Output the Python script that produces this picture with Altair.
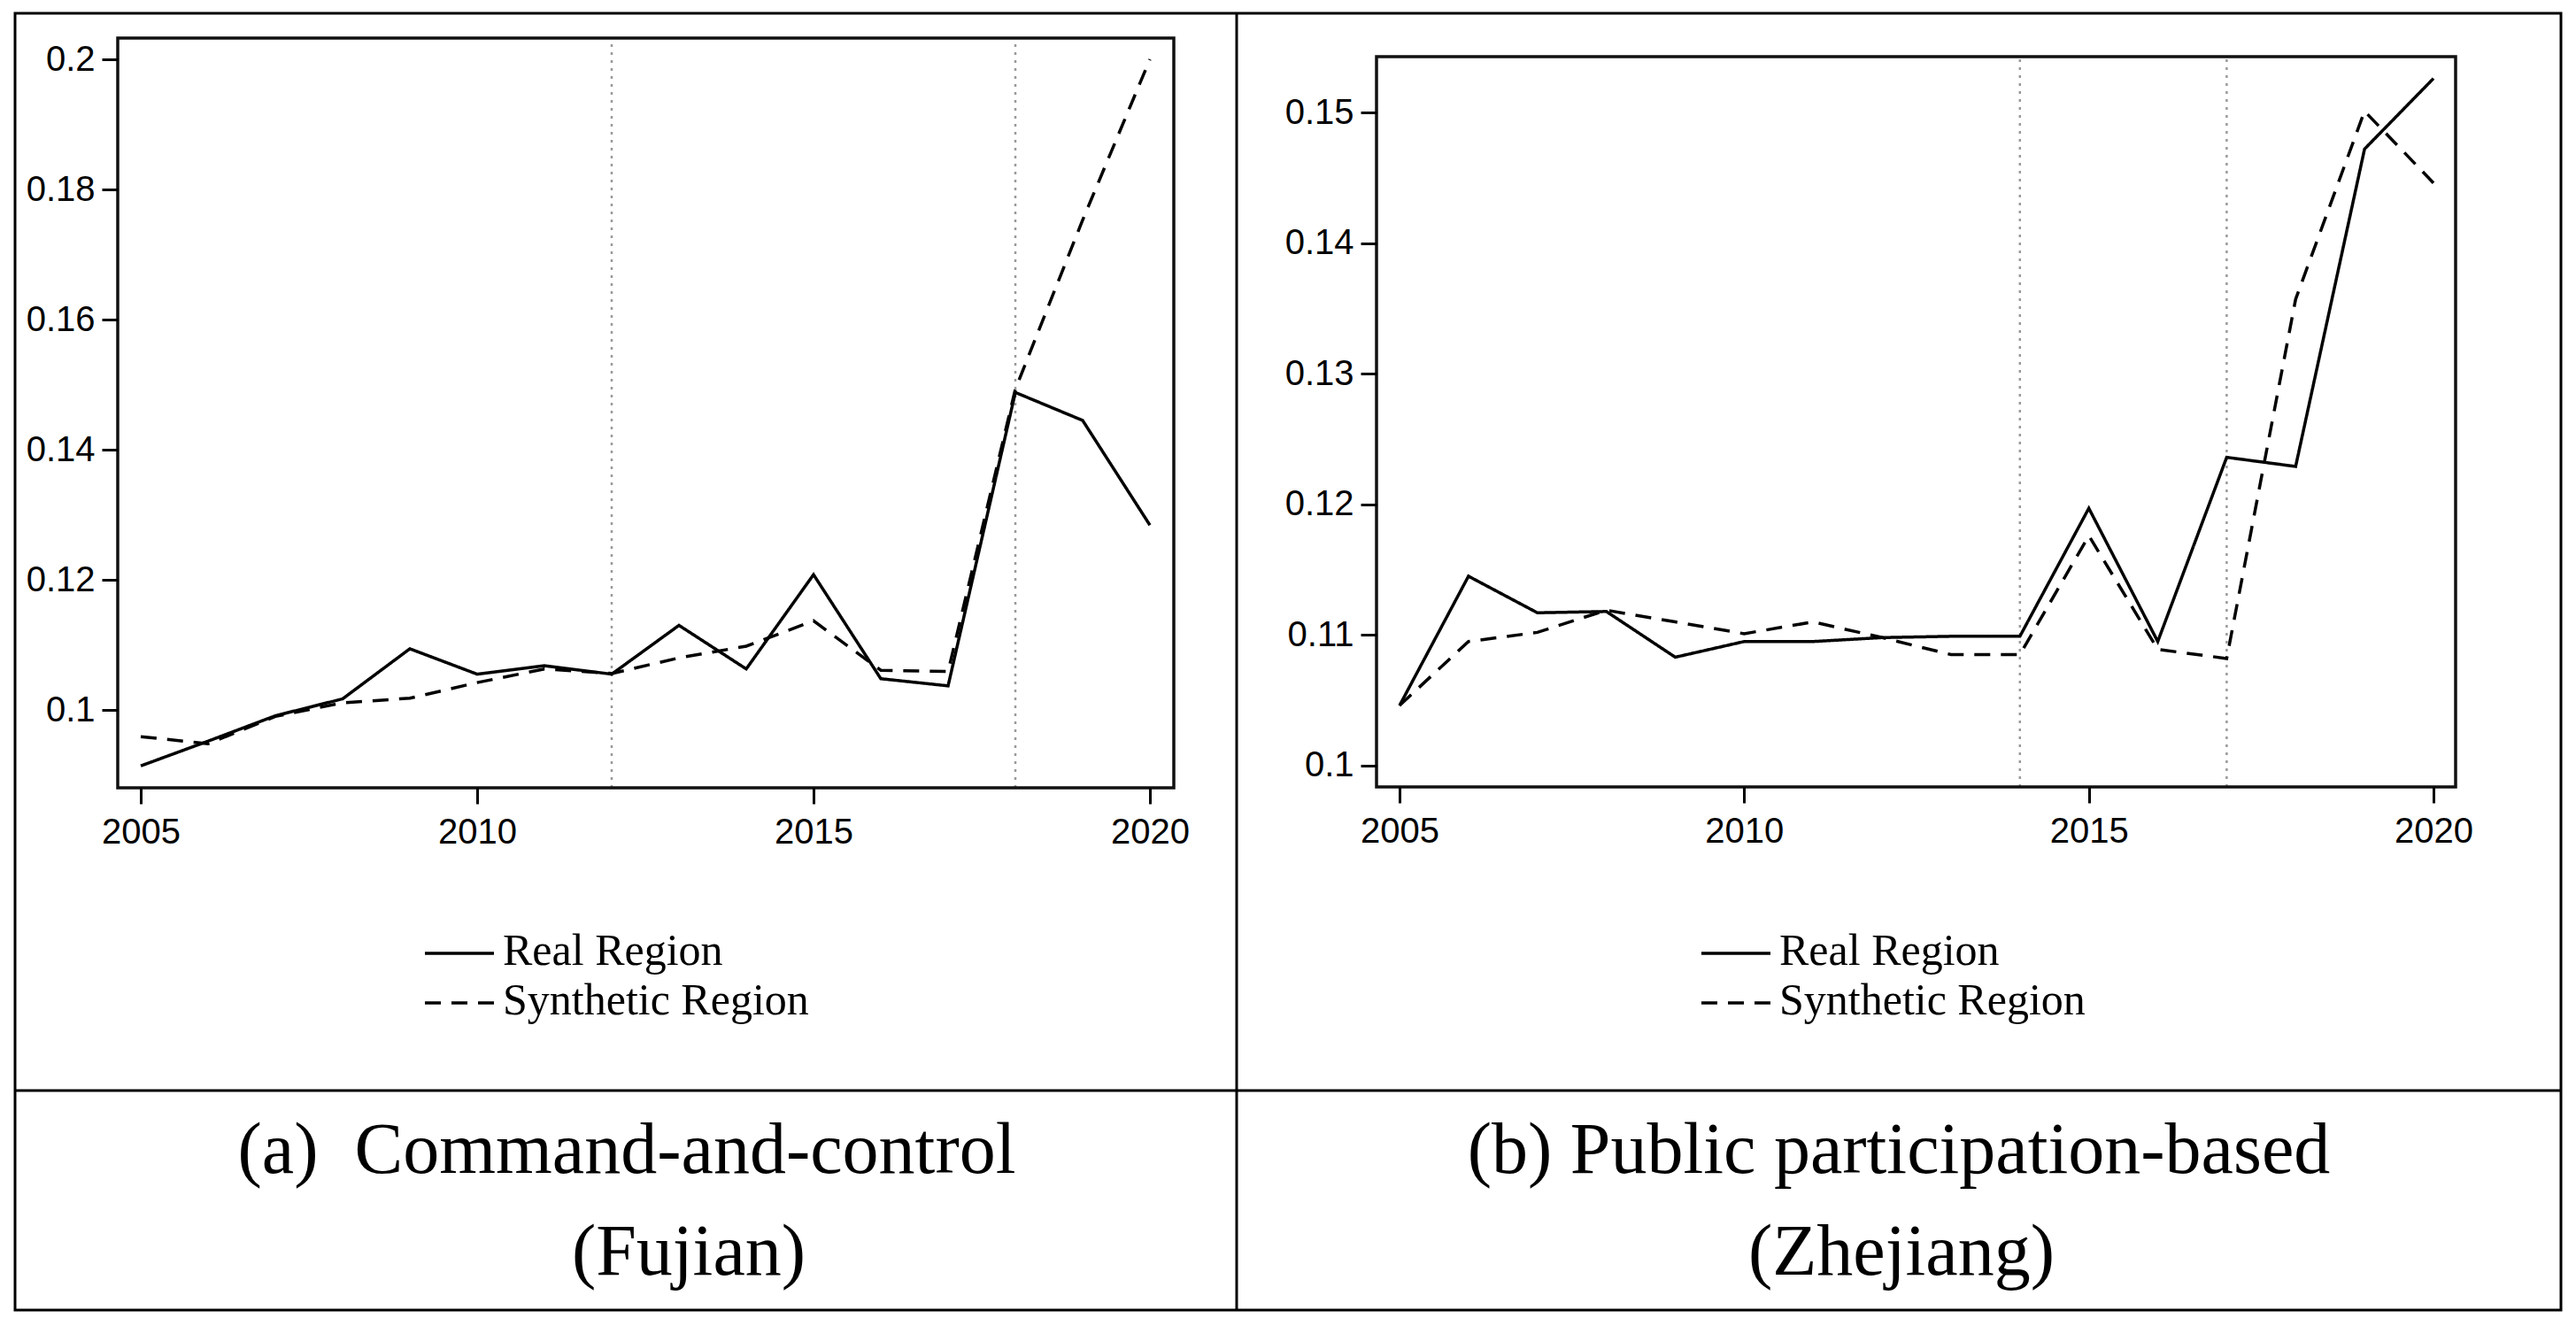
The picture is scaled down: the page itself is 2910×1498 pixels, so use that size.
import altair as alt
import pandas as pd

# ---------------- data ----------------
years = list(range(2005, 2021))
series_names = ["Real Region", "Synthetic Region"]

fujian_real = [0.0914, 0.0952, 0.0991, 0.1017, 0.1094, 0.1055, 0.1068, 0.1055,
               0.1130, 0.1063, 0.1208, 0.1048, 0.1037, 0.1488, 0.1445, 0.1284]
fujian_synth = [0.0959, 0.0948, 0.0990, 0.1011, 0.1018, 0.1042, 0.1063, 0.1056,
                0.1080, 0.1098, 0.1137, 0.1061, 0.1059, 0.1493, 0.1753, 0.2000]

zhejiang_real = [0.1046, 0.1145, 0.1117, 0.1118, 0.1083, 0.1095, 0.1095, 0.1098,
                 0.1099, 0.1099, 0.1197, 0.1095, 0.1236, 0.1229, 0.1472, 0.1526]
zhejiang_synth = [0.1046, 0.1095, 0.1102, 0.1119, 0.1110, 0.1101, 0.1110, 0.1098,
                  0.1085, 0.1085, 0.1176, 0.1089, 0.1082, 0.1357, 0.1501, 0.1446]

fujian_policy_years = [2012, 2018]
zhejiang_policy_years = [2014, 2017]

x_ticks = [2005, 2010, 2015, 2020]
fujian_y_ticks = [0.1, 0.12, 0.14, 0.16, 0.18, 0.2]
zhejiang_y_ticks = [0.1, 0.11, 0.12, 0.13, 0.14, 0.15]

fujian_x_domain = [2004.658, 2020.355]
fujian_y_domain = [0.08803, 0.20327]
zhejiang_x_domain = [2004.666, 2020.321]
zhejiang_y_domain = [0.09837, 0.15427]

captions_a = ["(a)\u00a0 Command-and-control", "(Fujian)"]
captions_b = ["(b) Public participation-based", "(Zhejiang)"]

# ---------------- layout ----------------
W, H = 2894, 1482
DASHES = [[1, 0], [18, 12]]


def long_df(real, synth):
    return pd.DataFrame({
        "year": years * 2,
        "value": real + synth,
        "series": [series_names[0]] * len(years) + [series_names[1]] * len(years),
    })


def panel_layers(df, policy, xdom, xrng, ydom, yrng, yticks, xoff, yoff, lx, ly):
    def xs():
        return alt.Scale(domain=xdom, range=xrng, nice=False, zero=False)

    def ys():
        return alt.Scale(domain=ydom, range=yrng, nice=False, zero=False)

    axis_x = alt.Axis(orient="bottom", offset=xoff, values=x_ticks, format="d",
                      title=None, domain=False, grid=False, ticks=True,
                      tickSize=18, tickWidth=3, tickColor="black",
                      labels=True, labelFont="Liberation Sans",
                      labelFontSize=40, labelColor="black", labelPadding=12,
                      labelFlush=False, labelOverlap=False, zindex=2)
    axis_y = alt.Axis(orient="left", offset=yoff, values=yticks, format=".2~f",
                      title=None, domain=False, grid=False, ticks=True,
                      tickSize=18, tickWidth=3, tickColor="black",
                      labels=True, labelFont="Liberation Sans",
                      labelFontSize=40, labelColor="black", labelPadding=8,
                      labelFlush=False, labelOverlap=False, zindex=2)
    lines = alt.Chart(df).mark_line(color="black", strokeWidth=3.5).encode(
        x=alt.X("year:Q", scale=xs(), axis=axis_x),
        y=alt.Y("value:Q", scale=ys(), axis=axis_y),
        strokeDash=alt.StrokeDash(
            "series:N",
            scale=alt.Scale(domain=series_names, range=DASHES),
            legend=None,
        ),
    )
    rule_df = pd.DataFrame({"year": policy, "y0": [ydom[0]] * len(policy),
                            "y1": [ydom[1]] * len(policy)})
    rules = alt.Chart(rule_df).mark_rule(color="#9a9a9a", strokeDash=[3, 6],
                                         strokeWidth=2.5).encode(
        x=alt.X("year:Q", scale=xs(), axis=None),
        y=alt.Y("y0:Q", scale=ys(), axis=None),
        y2="y1:Q",
    )
    frame_df = pd.DataFrame({"x0": [xdom[0]], "x1": [xdom[1]],
                             "y0": [ydom[0]], "y1": [ydom[1]]})
    frame = alt.Chart(frame_df).mark_rect(fillOpacity=0, stroke="#111",
                                          strokeWidth=3.5).encode(
        x=alt.X("x0:Q", scale=xs(), axis=None), x2="x1:Q",
        y=alt.Y("y0:Q", scale=ys(), axis=None), y2="y1:Q",
    )
    # legend (key lines + labels)
    legend = []
    row_gap = 56
    for i, name in enumerate(series_names):
        ky = ly + i * row_gap
        legend.append(
            alt.Chart(pd.DataFrame({"s": [name]})).mark_rule(
                color="black", strokeWidth=3.5, strokeDash=DASHES[i]).encode(
                x=alt.value(lx), x2=alt.value(lx + 78), y=alt.value(ky))
        )
        legend.append(
            alt.Chart(pd.DataFrame({"s": [name]})).mark_text(
                font="Liberation Serif", fontSize=50, align="left",
                baseline="alphabetic", color="black").encode(
                x=alt.value(lx + 88), y=alt.value(ky + 13), text="s:N")
        )
    return [rules, frame, lines] + legend


layers_a = panel_layers(long_df(fujian_real, fujian_synth), fujian_policy_years,
                        fujian_x_domain, [125, 1318], fujian_y_domain, [882, 35],
                        fujian_y_ticks, 882 - H, -125, 472, 1069)
layers_b = panel_layers(long_df(zhejiang_real, zhejiang_synth), zhejiang_policy_years,
                        zhejiang_x_domain, [1547, 2766], zhejiang_y_domain, [881, 56],
                        zhejiang_y_ticks, 881 - H, -1547, 1914, 1069)

one = pd.DataFrame({"k": [0]})
outer_box = alt.Chart(one).mark_rect(fillOpacity=0, stroke="black",
                                     strokeWidth=3).encode(
    x=alt.value(9), x2=alt.value(2885), y=alt.value(7), y2=alt.value(1472))
v_div = alt.Chart(one).mark_rule(color="black", strokeWidth=3).encode(
    x=alt.value(1389), y=alt.value(7), y2=alt.value(1472))
h_div = alt.Chart(one).mark_rule(color="black", strokeWidth=3).encode(
    x=alt.value(9), x2=alt.value(2885), y=alt.value(1224))


def caption(txt, x, y):
    return alt.Chart(pd.DataFrame({"t": [txt]})).mark_text(
        font="Liberation Serif", fontSize=82, align="center",
        baseline="alphabetic", color="black").encode(
        x=alt.value(x), y=alt.value(y), text="t:N")


caps = [
    caption(captions_a[0], 700, 1317),
    caption(captions_a[1], 770, 1432),
    caption(captions_b[0], 2137, 1317),
    caption(captions_b[1], 2140, 1432),
]

chart = alt.layer(outer_box, v_div, h_div, *caps, *layers_a, *layers_b).resolve_scale(
    x="independent", y="independent", strokeDash="independent"
).resolve_axis(x="independent", y="independent").properties(
    width=W, height=H, autosize=alt.AutoSizeParams(type="none"), padding=0,
    background="white"
).configure_view(stroke=None)

chart.save("out.html", embed_options={"renderer": "svg", "actions": False})
